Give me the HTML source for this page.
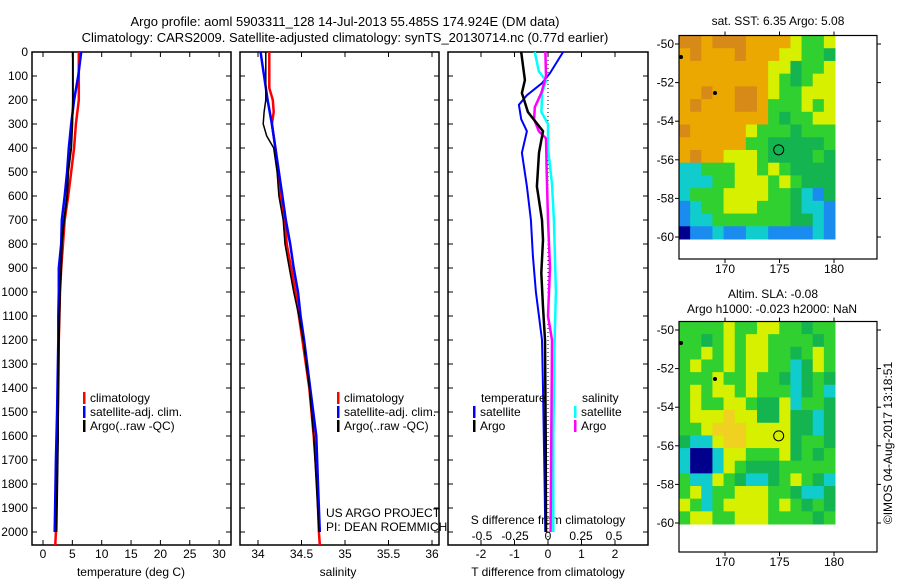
<!DOCTYPE html>
<html><head><meta charset="utf-8"><style>
html,body{margin:0;padding:0;background:#fff;width:900px;height:580px;overflow:hidden}
svg{display:block;font-family:"Liberation Sans",sans-serif}
</style></head><body>
<svg id="c" width="900" height="580" viewBox="0 0 900 580"></svg>
<script>
// ---- data ----
const tDepthClim=[0,200,300,400,500,600,700,800,900,1000,1200,1400,1700,2000,2054];
const tClim=[6.1,6.1,5.6,5.3,4.8,4.3,3.7,3.4,3.1,2.9,2.7,2.6,2.4,2.2,2.1];
const tDepthSat=[0,100,200,300,400,500,600,700,800,900,1000,1100,1200,1500,1700,2000];
const tSat=[6.5,6.0,5.3,4.8,4.4,4.1,3.7,3.2,3.1,2.7,2.7,2.6,2.6,2.4,2.2,2.0];
const tDepthArgo=[0,100,200,300,400,500,600,700,800,900,1000,1200,1500,1600,2000];
const tArgo=[5.1,5.1,5.1,5.0,4.8,4.3,4.1,3.6,3.2,3.1,2.9,2.7,2.55,2.55,2.3];
const sDepthClim=[0,150,200,250,300,400,500,600,700,800,900,1000,1100,1200,1400,1600,1800,2000,2054];
const sClim=[34.13,34.13,34.17,34.18,34.16,34.20,34.23,34.26,34.31,34.33,34.38,34.43,34.47,34.51,34.59,34.64,34.68,34.70,34.71];
const sDepthSat=[0,50,100,200,300,400,500,600,700,800,900,1000,1100,1200,1400,1600,1800,2000];
const sSat=[34.03,34.05,34.07,34.11,34.16,34.20,34.24,34.28,34.32,34.37,34.41,34.46,34.49,34.53,34.60,34.67,34.69,34.71];
const sDepthArgo=[0,100,200,250,300,350,400,500,600,700,800,900,1000,1100,1200,1400,1600,2000];
const sArgo=[34.09,34.09,34.09,34.07,34.06,34.10,34.18,34.22,34.24,34.29,34.31,34.36,34.41,34.47,34.52,34.59,34.64,34.70];
const dDepthTA=[0,117,171,250,330,420,560,700,783,921,1062,1200,1600,2000];
const dTArgo=[-0.8,-0.69,-0.78,-0.6,-0.15,-0.27,-0.33,-0.18,-0.15,-0.2,-0.15,-0.09,-0.07,-0.06];
const dDepthTS=[0,88,130,180,220,280,330,420,560,700,850,1000,1200,1400,1800,2000];
const dTSat=[0.45,0.06,-0.18,-0.63,-0.87,-0.8,-0.63,-0.78,-0.63,-0.51,-0.45,-0.36,-0.18,-0.15,-0.1,-0.08];
const dDepthSS=[0,80,120,170,250,300,400,550,700,1000,1200,1600,2000];
const dSSat=[-0.1,-0.07,-0.015,-0.045,-0.05,0,0,0.03,0.045,0.06,0.05,0.04,0.04];
const dDepthSA=[0,100,170,230,280,330,360,500,700,900,1100,1200,1600,2000];
const dSArgo=[-0.02,-0.015,-0.05,-0.1,-0.105,-0.07,-0.015,-0.01,0,0.015,0,0.03,0.025,0.02];
const depthTicks=[0,100,200,300,400,500,600,700,800,900,1000,1100,1200,1300,1400,1500,1600,1700,1800,1900,2000];
const tTicks=[0,5,10,15,20,25,30];
const sTicks=[34,34.5,35,35.5,36];
const sTickLabels=["34","34.5","35","35.5","36"];
const dTTicks=[-2,-1,0,1,2];
const dSTicks=[-0.5,-0.25,0,0.25,0.5];
const dSTickLabels=["-0.5","-0.25","0","0.25","0.5"];
const latTicks=[-50,-52,-54,-56,-58,-60];
const lonTicks=[170,175,180];
const argoLon=174.924, argoLat=-55.485;
const sstGrid=["DDODDDOOOOYGGY","ODOOODOOOYYGGE","OOOOOOOOYYEGGY","OOOOOOOOYGEGYY","OODOODDOYGGYYY","ODOOODDOGGGYGY","OOOOOOOOGEGGYY","DOOOOOYGGGEGGG","OOOOOOGGEEEEEG","ODOOYYYGEEEEGE","CCGGGYYGYGEEEE","CCCGGYYYGYGEEE","CGGGYYYYGGECBE","BCGGYYYGGGECCB","BCCGGGGGGGEECB","NBBCBBCCBBBBCB"];
const slaGrid=["GGGGYGGYYGGEGG","GGEGYGYYGGGGEG","GGYGYGYYGGEGYG","GYGGYGYYGGCEYG","GGGYGGYGGECEGE","GYGYYGYGGGCEGC","GYGGYYGEEYCGGE","GYYYLYYEEYEECE","GGYLLLYYYYEECE","ECCYLLYYYYEGGE","CNNCYYGGGYEGEG","CNNCYGEEEGGGGG","GCCYGECCEGYGEC","GYCGGYYYGGECCE","YGCGYYYYGYGEGE","GYYGGYYYGGGGEG"];
const pal={D:"#d88a18",O:"#eaa800",Y:"#d6f000",G:"#30d030",E:"#14b450",C:"#10cccc",B:"#1a8cf0",N:"#00008c",L:"#f0d020"};

// ---- helpers ----
const svg=document.getElementById('c');
const NS="http://www.w3.org/2000/svg";
function mk(tag,attrs,parent){const e=document.createElementNS(NS,tag);for(const k in attrs)e.setAttribute(k,attrs[k]);(parent||svg).appendChild(e);return e;}
function txt(x,y,s,anchor,size,extra){const e=mk('text',Object.assign({x:x,y:y,'text-anchor':anchor||'start','font-size':size||12,fill:'#000'},extra||{}));e.textContent=s;return e;}
const Y0=52,Y1=545;
const yD=d=>Y0+d*0.24;
function line(xs,ds,fx,color,w,name){
  let p='';
  for(let i=0;i<xs.length;i++){p+=(i?'L':'M')+fx(xs[i]).toFixed(1)+','+yD(ds[i]).toFixed(1);}
  const e=mk('path',{d:p,fill:'none',stroke:color,'stroke-width':w});
  
  
  return e;
}
function frame(x0,x1,name){
  const r=mk('rect',{x:x0,y:Y0,width:x1-x0,height:Y1-Y0,fill:'none',stroke:'#000','stroke-width':1.5});
  
  
  depthTicks.forEach(d=>{mk('line',{x1:x0,x2:x0+5,y1:yD(d),y2:yD(d),stroke:'#000'});mk('line',{x1:x1-5,x2:x1,y1:yD(d),y2:yD(d),stroke:'#000'});});
}
// ---- titles ----
let t=txt(345,26,"Argo profile: aoml 5903311_128 14-Jul-2013 55.485S 174.924E (DM data)",'middle',13);


t=txt(345,42,"Climatology: CARS2009. Satellite-adjusted climatology: synTS_20130714.nc (0.77d earlier)",'middle',13);



depthTicks.forEach(d=>{const e=txt(28,yD(d)+4,String(d),'end',12);});

// ---- panel 1 temperature ----
const fT=v=>43+v*5.87;
frame(32,231,'temperature-panel');
tTicks.forEach(v=>{mk('line',{x1:fT(v),x2:fT(v),y1:Y1,y2:Y1-5,stroke:'#000'});mk('line',{x1:fT(v),x2:fT(v),y1:Y0,y2:Y0+5,stroke:'#000'});const e=txt(fT(v),558,String(v),'middle',12);});
t=txt(131,576,"temperature (deg C)",'middle',12);
line(tClim,tDepthClim,fT,'#f00',2.5,'temperature-climatology-line');
line(tSat,tDepthSat,fT,'#00f',2.5,'temperature-satellite-line');
line(tArgo,tDepthArgo,fT,'#000',2,'temperature-argo-line');

// ---- panel 2 salinity ----
const fS=v=>258+(v-34)*87;
frame(240,439,'salinity-panel');
sTicks.forEach((v,i)=>{mk('line',{x1:fS(v),x2:fS(v),y1:Y1,y2:Y1-5,stroke:'#000'});mk('line',{x1:fS(v),x2:fS(v),y1:Y0,y2:Y0+5,stroke:'#000'});const e=txt(fS(v),558,sTickLabels[i],'middle',12);});
t=txt(338,576,"salinity",'middle',12);
line(sClim,sDepthClim,fS,'#f00',2.5,'salinity-climatology-line');
line(sSat,sDepthSat,fS,'#00f',2.5,'salinity-satellite-line');
line(sArgo,sDepthArgo,fS,'#000',1.5,'salinity-argo-line');

function legend(x,y,color,label,name){
  const b=mk('rect',{x:x,y:y-10,width:2.5,height:12,fill:color});
  
  
  const e=txt(x+7,y,label,'start',12);
  
  
}
[[83,'temp'],[337,'sal']].forEach(([x,p])=>{
  legend(x,402,'#f00','climatology',p+'-legend-climatology');
  legend(x,416,'#00f','satellite-adj. clim.',p+'-legend-satellite');
  legend(x,430,'#000','Argo(..raw -QC)',p+'-legend-argo');
});
t=txt(326,517,"US ARGO PROJECT",'start',12);
t=txt(326,531,"PI: DEAN ROEMMICH",'start',12);

// ---- panel 3 differences ----
const fdT=v=>548+v*33.5;
const fdS=v=>548+v*132;
frame(448,648,'difference-panel');
mk('line',{x1:548,x2:548,y1:Y0,y2:Y1,stroke:'#000','stroke-dasharray':'1,3'});
dTTicks.forEach(v=>{mk('line',{x1:fdT(v),x2:fdT(v),y1:Y1,y2:Y1-5,stroke:'#000'});mk('line',{x1:fdT(v),x2:fdT(v),y1:Y0,y2:Y0+5,stroke:'#000'});const e=txt(fdT(v),558,String(v),'middle',12);});
dSTicks.forEach((v,i)=>{const e=txt(fdS(v),540,dSTickLabels[i],'middle',12);});
t=txt(548,524,"S difference from climatology",'middle',12);
t=txt(548,576,"T difference from climatology",'middle',12);
line(dTSat,dDepthTS,fdT,'#00f',2,'t-diff-satellite-line');
line(dSSat,dDepthSS,fdS,'#0ff',2.5,'s-diff-satellite-line');
line(dSArgo,dDepthSA,fdS,'#f0f',2.5,'s-diff-argo-line');
line(dTArgo,dDepthTA,fdT,'#000',2.5,'t-diff-argo-line');
t=txt(481,402,"temperature",'start',12);
t=txt(582,402,"salinity",'start',12);
legend(473,416,'#00f','satellite','diff-legend-t-satellite');
legend(473,430,'#000','Argo','diff-legend-t-argo');
legend(574,416,'#0ff','satellite','diff-legend-s-satellite');
legend(574,430,'#f0f','Argo','diff-legend-s-argo');

// ---- maps ----
function map(top,latScale,grid,imgTop,imgBot,frameBot,name){
  const x0=679,x1=877,ix1=835;
  const lonX=l=>725+(l-170)*10.9;
  const latY=l=>top+(-50-l)*latScale;
  const rows=grid.length,cols=grid[0].length;
  const cw=(ix1-x0)/cols,ch=(imgBot-imgTop)/rows;
  grid.forEach((row,r)=>{for(let c=0;c<cols;c++){
    const e=mk('rect',{x:x0+c*cw,y:imgTop+r*ch,width:cw+0.5,height:ch+0.5,fill:pal[row[c]]});
    
    
  }});
  const fr=mk('rect',{x:x0,y:imgTop,width:x1-x0,height:frameBot-imgTop,fill:'none',stroke:'#000','stroke-width':1.2});
  
  
  latTicks.forEach(l=>{const y=latY(l);mk('line',{x1:x0-4,x2:x0,y1:y,y2:y,stroke:'#000'});mk('line',{x1:x1,x2:x1+4,y1:y,y2:y,stroke:'#000'});const e=txt(674,y+4,String(l),'end',12);});
  lonTicks.forEach(l=>{const x=lonX(l);mk('line',{x1:x,x2:x,y1:imgTop-4,y2:imgTop,stroke:'#000'});mk('line',{x1:x,x2:x,y1:frameBot,y2:frameBot+4,stroke:'#000'});const e=txt(x,frameBot+14,String(l),'middle',12);});
  const c=mk('circle',{cx:lonX(argoLon),cy:latY(argoLat),r:5,fill:'none',stroke:'#000','stroke-width':1});
  
  
  [[681,57],[715,93]].forEach(([x,y])=>{const d=mk('circle',{cx:x,cy:y+(top-44),r:2,fill:'#000'});});
}
map(44,19.3,sstGrid,35.5,239,259,'sst-map');
map(330,19.3,slaGrid,321.5,524,552,'sla-map');
t=txt(778,25,"sat. SST: 6.35 Argo: 5.08",'middle',12);
t=txt(773,298,"Altim. SLA: -0.08",'middle',12);
t=txt(772,313,"Argo h1000: -0.023 h2000: NaN",'middle',12);
t=txt(0,0,"©IMOS 04-Aug-2017 13:18:51",'middle',12,{transform:'translate(892,443) rotate(-90)'});


</script>
</body></html>
